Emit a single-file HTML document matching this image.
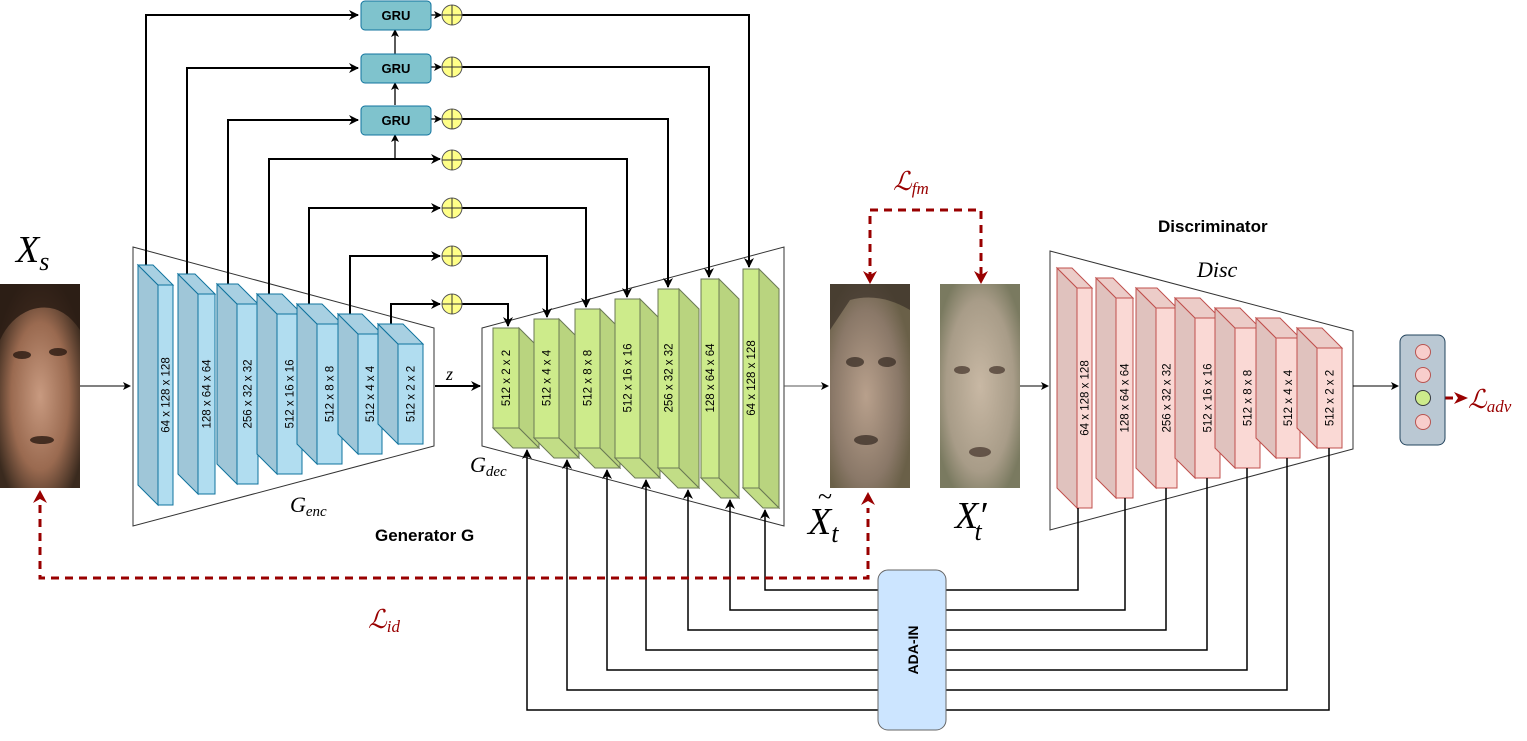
<!DOCTYPE html>
<html><head><meta charset="utf-8"><style>
html,body{margin:0;padding:0;background:#fff;}
svg{display:block;}
.bl{font-family:"Liberation Sans",sans-serif;font-size:11.5px;fill:#000;}
.m{font-family:"Liberation Serif",serif;font-style:italic;}
</style></head><body>
<svg width="1527" height="741" viewBox="0 0 1527 741" xmlns="http://www.w3.org/2000/svg">
<defs>
<marker id="a" markerWidth="10" markerHeight="10" refX="9" refY="5" orient="auto" markerUnits="userSpaceOnUse"><path d="M0,0 L10,5 L0,10 L3,5 z" fill="#000"/></marker>
<marker id="as" markerWidth="8" markerHeight="8" refX="7" refY="4" orient="auto" markerUnits="userSpaceOnUse"><path d="M0,0 L8,4 L0,8 L2,4 z" fill="#000"/></marker>
<radialGradient id="f1" cx="0.5" cy="0.55" r="0.6"><stop offset="0" stop-color="#c89a80"/><stop offset="0.6" stop-color="#9a6a50"/><stop offset="1" stop-color="#3a2a1e"/></radialGradient>
<radialGradient id="f2" cx="0.45" cy="0.55" r="0.6"><stop offset="0" stop-color="#b8a08c"/><stop offset="0.7" stop-color="#8a7868"/><stop offset="1" stop-color="#6a6048"/></radialGradient>
<radialGradient id="f3" cx="0.5" cy="0.5" r="0.6"><stop offset="0" stop-color="#c8b8a4"/><stop offset="0.7" stop-color="#a89c88"/><stop offset="1" stop-color="#7a7a60"/></radialGradient>
</defs>

<!-- faces -->
<rect x="0" y="284" width="80" height="204" fill="url(#f1)"/>
<path d="M0,284 H80 V330 Q60,300 30,310 Q10,318 0,340 z" fill="#2a1c14" opacity="0.85"/>
<g fill="#2a1a12" opacity="0.8"><ellipse cx="22" cy="355" rx="9" ry="4"/><ellipse cx="58" cy="352" rx="9" ry="4"/><ellipse cx="42" cy="440" rx="12" ry="4"/></g>
<rect x="830" y="284" width="80" height="204" fill="url(#f2)"/>
<path d="M830,284 H910 V310 Q880,292 850,300 L830,330 z" fill="#3a3028" opacity="0.7"/>
<g fill="#3a2e26" opacity="0.75"><ellipse cx="855" cy="362" rx="9" ry="5"/><ellipse cx="887" cy="362" rx="9" ry="5"/><ellipse cx="866" cy="440" rx="12" ry="5"/></g>
<rect x="940" y="284" width="80" height="204" fill="url(#f3)"/>
<g fill="#4a3a30" opacity="0.75"><ellipse cx="962" cy="370" rx="8" ry="4"/><ellipse cx="997" cy="370" rx="8" ry="4"/><ellipse cx="980" cy="452" rx="11" ry="5"/></g>

<!-- trapezoids -->
<polygon points="133,247 434,328 434,446 133,526" fill="none" stroke="#333" stroke-width="1"/>
<polygon points="482,328 784,247 784,526 482,446" fill="none" stroke="#333" stroke-width="1"/>
<polygon points="1050,251 1353,331 1353,449 1050,530" fill="none" stroke="#333" stroke-width="1"/>

<!-- skip connections -->
<g stroke="#000" stroke-width="2" fill="none">
<polyline points="146,268 146,15 358,15" marker-end="url(#a)"/>
<polyline points="187,277 187,68 358,68" marker-end="url(#a)"/>
<polyline points="228,287 228,120 358,120" marker-end="url(#a)"/>
<polyline points="269,297 269,159 440,159" marker-end="url(#a)"/>
<polyline points="309,307 309,208 440,208" marker-end="url(#a)"/>
<polyline points="350,317 350,256 440,256" marker-end="url(#a)"/>
<polyline points="391,327 391,304 440,304" marker-end="url(#a)"/>
<polyline points="462,15 749,15 749,267" marker-end="url(#a)"/>
<polyline points="462,67 709,67 709,277" marker-end="url(#a)"/>
<polyline points="462,119 668,119 668,287" marker-end="url(#a)"/>
<polyline points="462,159 627,159 627,297" marker-end="url(#a)"/>
<polyline points="462,208 586,208 586,307" marker-end="url(#a)"/>
<polyline points="462,256 547,256 547,317" marker-end="url(#a)"/>
<polyline points="462,304 508,304 508,326" marker-end="url(#a)"/>
</g>
<g stroke="#000" stroke-width="1.3" fill="none">
<line x1="431" y1="15" x2="441" y2="15" marker-end="url(#as)"/>
<line x1="431" y1="67" x2="441" y2="67" marker-end="url(#as)"/>
<line x1="431" y1="119" x2="441" y2="119" marker-end="url(#as)"/>
<line x1="395" y1="159" x2="395" y2="135" marker-end="url(#as)"/>
<line x1="395" y1="105" x2="395" y2="83" marker-end="url(#as)"/>
<line x1="395" y1="54" x2="395" y2="30" marker-end="url(#as)"/>
</g>

<!-- GRU -->
<g fill="#7fc3cd" stroke="#10739e" stroke-width="1">
<rect x="361" y="1" width="70" height="29" rx="4"/>
<rect x="361" y="54" width="70" height="29" rx="4"/>
<rect x="361" y="106" width="70" height="29" rx="4"/>
</g>
<g font-family="Liberation Sans,sans-serif" font-weight="bold" font-size="13" text-anchor="middle">
<text x="396" y="20">GRU</text><text x="396" y="73">GRU</text><text x="396" y="125">GRU</text>
</g>
<g fill="#ffff88" stroke="#555" stroke-width="1">
<circle cx="452" cy="15" r="10"/><circle cx="452" cy="67" r="10"/><circle cx="452" cy="119" r="10"/>
<circle cx="452" cy="160" r="10"/><circle cx="452" cy="208" r="10"/><circle cx="452" cy="256" r="10"/><circle cx="452" cy="304" r="10"/>
</g>
<g stroke="#333" stroke-width="1">
<path d="M442,15h20M452,5v20M442,67h20M452,57v20M442,119h20M452,109v20M442,160h20M452,150v20M442,208h20M452,198v20M442,256h20M452,246v20M442,304h20M452,294v20"/>
</g>

<!-- encoder blocks -->
<g stroke="#10739e" stroke-width="1">
<polygon points="138,265 158,285 158,505 138,485" fill="#9fc6d8"/><polygon points="138,265 153,265 173,285 158,285" fill="#a8d0e2"/><rect x="158" y="285" width="15" height="220" fill="#b1ddf0"/>
<polygon points="178,274 198,294 198,494 178,474" fill="#9fc6d8"/><polygon points="178,274 195,274 215,294 198,294" fill="#a8d0e2"/><rect x="198" y="294" width="17" height="200" fill="#b1ddf0"/>
<polygon points="217,284 237,304 237,484 217,464" fill="#9fc6d8"/><polygon points="217,284 238,284 258,304 237,304" fill="#a8d0e2"/><rect x="237" y="304" width="21" height="180" fill="#b1ddf0"/>
<polygon points="257,294 277,314 277,474 257,454" fill="#9fc6d8"/><polygon points="257,294 282,294 302,314 277,314" fill="#a8d0e2"/><rect x="277" y="314" width="25" height="160" fill="#b1ddf0"/>
<polygon points="297,304 317,324 317,464 297,444" fill="#9fc6d8"/><polygon points="297,304 322,304 342,324 317,324" fill="#a8d0e2"/><rect x="317" y="324" width="25" height="140" fill="#b1ddf0"/>
<polygon points="338,314 358,334 358,454 338,434" fill="#9fc6d8"/><polygon points="338,314 362,314 382,334 358,334" fill="#a8d0e2"/><rect x="358" y="334" width="24" height="120" fill="#b1ddf0"/>
<polygon points="378,324 398,344 398,444 378,424" fill="#9fc6d8"/><polygon points="378,324 403,324 423,344 398,344" fill="#a8d0e2"/><rect x="398" y="344" width="25" height="100" fill="#b1ddf0"/>
</g>
<g class="bl" text-anchor="middle">
<text transform="translate(169.5,395) rotate(-90)">64 x 128 x 128</text>
<text transform="translate(210.5,394) rotate(-90)">128 x 64 x 64</text>
<text transform="translate(251.5,394) rotate(-90)">256 x 32 x 32</text>
<text transform="translate(293.5,394) rotate(-90)">512 x 16 x 16</text>
<text transform="translate(333.5,394) rotate(-90)">512 x 8 x 8</text>
<text transform="translate(374,394) rotate(-90)">512 x 4 x 4</text>
<text transform="translate(414.5,394) rotate(-90)">512 x 2 x 2</text>
</g>

<!-- decoder blocks -->
<g stroke="#6b7a55" stroke-width="1">
<polygon points="519,328 539,348 539,448 519,428" fill="#b9d47f"/><polygon points="493,428 519,428 539,448 513,448" fill="#c2dd86"/><rect x="493" y="328" width="26" height="100" fill="#cdeb8b"/>
<polygon points="559,319 579,339 579,458 559,438" fill="#b9d47f"/><polygon points="534,438 559,438 579,458 554,458" fill="#c2dd86"/><rect x="534" y="319" width="25" height="119" fill="#cdeb8b"/>
<polygon points="600,309 620,329 620,468 600,448" fill="#b9d47f"/><polygon points="575,448 600,448 620,468 595,468" fill="#c2dd86"/><rect x="575" y="309" width="25" height="139" fill="#cdeb8b"/>
<polygon points="640,299 660,319 660,478 640,458" fill="#b9d47f"/><polygon points="615,458 640,458 660,478 635,478" fill="#c2dd86"/><rect x="615" y="299" width="25" height="159" fill="#cdeb8b"/>
<polygon points="679,289 699,309 699,488 679,468" fill="#b9d47f"/><polygon points="658,468 679,468 699,488 678,488" fill="#c2dd86"/><rect x="658" y="289" width="21" height="179" fill="#cdeb8b"/>
<polygon points="719,279 739,299 739,498 719,478" fill="#b9d47f"/><polygon points="701,478 719,478 739,498 721,498" fill="#c2dd86"/><rect x="701" y="279" width="18" height="199" fill="#cdeb8b"/>
<polygon points="759,269 779,289 779,508 759,488" fill="#b9d47f"/><polygon points="743,488 759,488 779,508 763,508" fill="#c2dd86"/><rect x="743" y="269" width="16" height="219" fill="#cdeb8b"/>
</g>
<g class="bl" text-anchor="middle">
<text transform="translate(510,378) rotate(-90)">512 x 2 x 2</text>
<text transform="translate(550.5,378) rotate(-90)">512 x 4 x 4</text>
<text transform="translate(591.5,378) rotate(-90)">512 x 8 x 8</text>
<text transform="translate(631.5,378) rotate(-90)">512 x 16 x 16</text>
<text transform="translate(672.5,378) rotate(-90)">256 x 32 x 32</text>
<text transform="translate(714,378) rotate(-90)">128 x 64 x 64</text>
<text transform="translate(755,378) rotate(-90)">64 x 128 x 128</text>
</g>

<!-- disc blocks -->
<g stroke="#c0504d" stroke-width="1">
<polygon points="1057,268 1077,288 1077,508 1057,488" fill="#e0c2be"/><polygon points="1057,268 1072,268 1092,288 1077,288" fill="#ecccc8"/><rect x="1077" y="288" width="15" height="220" fill="#fad9d5"/>
<polygon points="1096,278 1116,298 1116,498 1096,478" fill="#e0c2be"/><polygon points="1096,278 1113,278 1133,298 1116,298" fill="#ecccc8"/><rect x="1116" y="298" width="17" height="200" fill="#fad9d5"/>
<polygon points="1136,288 1156,308 1156,488 1136,468" fill="#e0c2be"/><polygon points="1136,288 1157,288 1177,308 1156,308" fill="#ecccc8"/><rect x="1156" y="308" width="21" height="180" fill="#fad9d5"/>
<polygon points="1175,298 1195,318 1195,478 1175,458" fill="#e0c2be"/><polygon points="1175,298 1200,298 1220,318 1195,318" fill="#ecccc8"/><rect x="1195" y="318" width="25" height="160" fill="#fad9d5"/>
<polygon points="1215,308 1235,328 1235,468 1215,448" fill="#e0c2be"/><polygon points="1215,308 1240,308 1260,328 1235,328" fill="#ecccc8"/><rect x="1235" y="328" width="25" height="140" fill="#fad9d5"/>
<polygon points="1256,318 1276,338 1276,458 1256,438" fill="#e0c2be"/><polygon points="1256,318 1280,318 1300,338 1276,338" fill="#ecccc8"/><rect x="1276" y="338" width="24" height="120" fill="#fad9d5"/>
<polygon points="1297,328 1317,348 1317,448 1297,428" fill="#e0c2be"/><polygon points="1297,328 1322,328 1342,348 1317,348" fill="#ecccc8"/><rect x="1317" y="348" width="25" height="100" fill="#fad9d5"/>
</g>
<g class="bl" text-anchor="middle">
<text transform="translate(1088.5,398) rotate(-90)">64 x 128 x 128</text>
<text transform="translate(1128.5,398) rotate(-90)">128 x 64 x 64</text>
<text transform="translate(1170.5,398) rotate(-90)">256 x 32 x 32</text>
<text transform="translate(1211.5,398) rotate(-90)">512 x 16 x 16</text>
<text transform="translate(1251.5,398) rotate(-90)">512 x 8 x 8</text>
<text transform="translate(1292,398) rotate(-90)">512 x 4 x 4</text>
<text transform="translate(1333.5,398) rotate(-90)">512 x 2 x 2</text>
</g>

<!-- ADA-IN connections -->
<g stroke="#000" stroke-width="1.5" fill="none">
<polyline points="878,590 765,590 765,510" marker-end="url(#a)"/>
<polyline points="878,610 730,610 730,500" marker-end="url(#a)"/>
<polyline points="878,630 688,630 688,490" marker-end="url(#a)"/>
<polyline points="878,650 646,650 646,480" marker-end="url(#a)"/>
<polyline points="878,670 607,670 607,470" marker-end="url(#a)"/>
<polyline points="878,690 567,690 567,460" marker-end="url(#a)"/>
<polyline points="878,710 527,710 527,450" marker-end="url(#a)"/>
<polyline points="946,590 1078,590 1078,508"/>
<polyline points="946,610 1125,610 1125,498"/>
<polyline points="946,630 1166,630 1166,488"/>
<polyline points="946,650 1207,650 1207,478"/>
<polyline points="946,670 1247,670 1247,468"/>
<polyline points="946,690 1287,690 1287,458"/>
<polyline points="946,710 1329,710 1329,448"/>
</g>

<!-- main flow arrows -->
<g stroke="#000" stroke-width="1" fill="none">
<line x1="80" y1="386" x2="130" y2="386" marker-end="url(#as)"/>
<line x1="435" y1="386" x2="480" y2="386" stroke-width="2" marker-end="url(#a)"/>
<line x1="784" y1="386" x2="828" y2="386" stroke="#555" marker-end="url(#as)"/>
<line x1="1020" y1="386" x2="1048" y2="386" marker-end="url(#as)"/>
<line x1="1353" y1="386" x2="1398" y2="386" marker-end="url(#as)"/>
</g>

<!-- red dashed losses -->
<g stroke="#990000" stroke-width="3" fill="none" stroke-dasharray="8,6">
<polyline points="870,280 870,210 981,210 981,280"/>
<polyline points="40,505 40,578 868,578 868,508"/>
<line x1="1431" y1="398" x2="1460" y2="398"/>
</g>
<g fill="#990000">
<path d="M863,271 L870,284 L877,271 L870,275 z"/>
<path d="M974,271 L981,284 L988,271 L981,275 z"/>
<path d="M33,503 L40,490 L47,503 L40,499 z"/>
<path d="M861,505 L868,492 L875,505 L868,501 z"/>
<path d="M1454,392 L1468,398 L1454,404 L1458,398 z"/>
</g>

<!-- ADA-IN box -->
<rect x="878" y="570" width="68" height="160" rx="10" fill="#cce5ff" stroke="#666" stroke-width="1"/>
<text transform="translate(918,650) rotate(-90)" text-anchor="middle" font-family="Liberation Sans,sans-serif" font-weight="bold" font-size="14">ADA-IN</text>

<!-- output box -->
<rect x="1400" y="335" width="45" height="110" rx="7" fill="#bac8d3" stroke="#23445d" stroke-width="1"/>
<g stroke="#b85450" stroke-width="1" fill="#f8cecc">
<circle cx="1423" cy="352" r="7.5"/><circle cx="1423" cy="375" r="7.5"/><circle cx="1423" cy="422" r="7.5"/>
</g>
<circle cx="1423" cy="398" r="7.5" fill="#cdeb8b" stroke="#36393d" stroke-width="1"/>

<!-- labels -->
<text x="16" y="262" class="m" font-size="38">X<tspan font-size="26" dy="8">s</tspan></text>
<text x="290" y="512" class="m" font-size="22">G<tspan font-size="15" dy="4">enc</tspan></text>
<text x="470" y="472" class="m" font-size="22">G<tspan font-size="15" dy="4">dec</tspan></text>
<text x="446" y="380" class="m" font-size="18">z</text>
<text x="375" y="541" font-family="Liberation Sans,sans-serif" font-weight="bold" font-size="17">Generator G</text>
<text x="1158" y="232" font-family="Liberation Sans,sans-serif" font-weight="bold" font-size="17">Discriminator</text>
<text x="1197" y="277" class="m" font-size="22">Disc</text>
<text x="808" y="534" class="m" font-size="38">X<tspan font-size="26" dy="8">t</tspan></text>
<text x="818" y="505" font-family="Liberation Serif,serif" font-size="26">~</text>
<text x="955" y="528" class="m" font-size="38">X′<tspan font-size="26" dy="12" dx="-12">t</tspan></text>
<text x="893" y="190" class="m" font-size="26" fill="#990000">ℒ<tspan font-size="17" dy="4">fm</tspan></text>
<text x="368" y="628" class="m" font-size="26" fill="#990000">ℒ<tspan font-size="17" dy="4">id</tspan></text>
<text x="1468" y="408" class="m" font-size="26" fill="#990000">ℒ<tspan font-size="17" dy="4">adv</tspan></text>
</svg>
</body></html>
